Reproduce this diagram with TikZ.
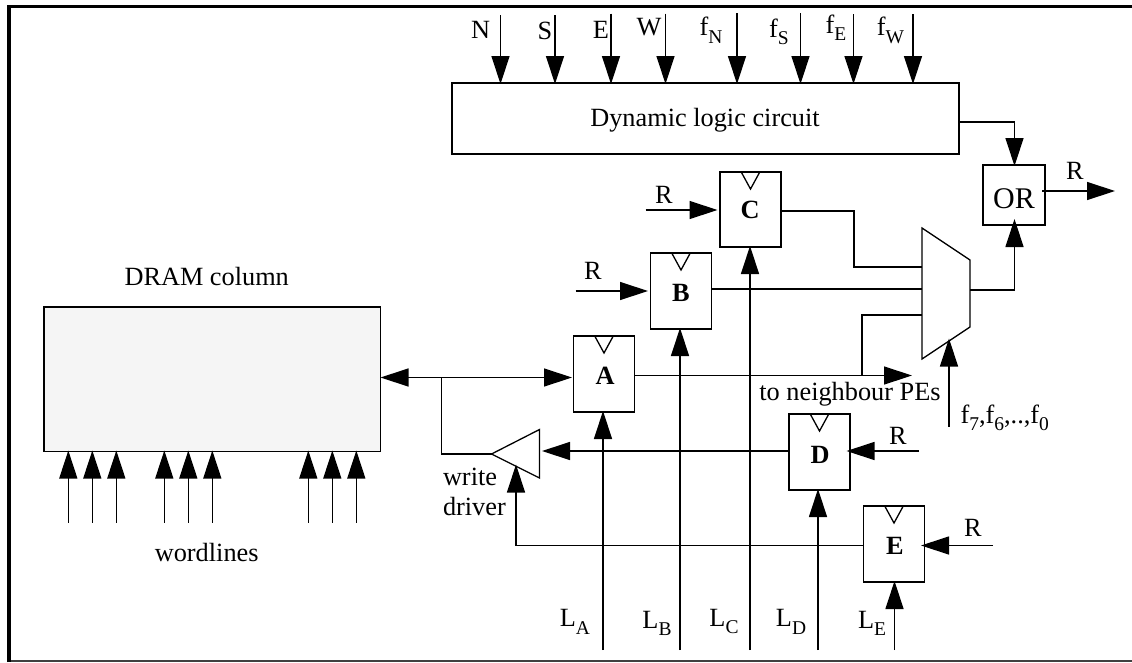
\documentclass[tikz,border=0pt]{standalone}
\usepackage{fontspec}
\setmainfont{Liberation Serif}
\usetikzlibrary{arrows.meta,calc}
\newcommand{\subt}[1]{\raisebox{-0.28em}{\fontsize{19.5}{19.5}\selectfont #1}}
\tikzset{
  wire/.style={line width=1.3pt},
  arr/.style={wire,-{Triangle[length=28pt,width=18pt]},shorten >=-1pt},
  dblarr/.style={wire,{Triangle[length=28pt,width=18pt]}-{Triangle[length=28pt,width=18pt]}},
  box/.style={draw,line width=1.3pt,inner sep=0pt,outer sep=0pt,anchor=north west},
  lbl/.style={inner sep=0pt,outer sep=0pt,anchor=base,font=\fontsize{26.3}{30}\selectfont},
  blbl/.style={lbl,font=\fontsize{26.3}{30}\selectfont\bfseries},
  clk/.style={draw,line width=1.3pt,line join=miter}
}
\begin{document}
\begin{tikzpicture}[x=1pt,y=-1pt]
\useasboundingbox (0,0) rectangle (1132,662);
\fill[white] (0,0) rectangle (1132,662);
% frame
\draw[line width=1.5pt,black!75] (8.5,661.2) -- (1132,661.2);
\draw[line width=3.6pt,black,line cap=butt,line join=miter] (8.9,662) -- (8.9,6.6) -- (1132,6.6);
% boxes
\node[box,minimum width=507pt,minimum height=71pt] (dyn) at (452,83) {};
\node[lbl] at (705,126) {Dynamic logic circuit};
\node[box,minimum width=62pt,minimum height=60pt] (or) at (983,165) {};
\node[lbl,font=\fontsize{30}{30}\selectfont] at (1014,208) {OR};
\node[box,minimum width=61pt,minimum height=75pt] (C) at (720,172) {};
\node[box,minimum width=61pt,minimum height=76pt] (B) at (650.5,253) {};
\node[box,minimum width=61pt,minimum height=76pt] (A) at (573.5,336) {};
\node[box,minimum width=61pt,minimum height=76pt] (D) at (789,414) {};
\node[box,minimum width=61pt,minimum height=76pt] (E) at (863.5,506) {};
\node[box,fill=black!4,minimum width=336.5pt,minimum height=144.5pt] (dram) at (44,307) {};
\node[blbl] at (750,218.5) {C};
\node[blbl] at (681,301.7) {B};
\node[blbl] at (605,384.5) {A};
\node[blbl] at (820,463.3) {D};
\node[blbl] at (895,554.3) {E};
% clock triangles
\foreach \b in {A,B,C,D,E}{
  \draw[clk] ($(\b.north)+(-9,0.5)$) -- ($(\b.north)+(0,17)$) -- ($(\b.north)+(9,0.5)$);
}
% mux
\draw[line width=1.3pt,line join=miter] (922,228) coordinate (mt) -- (970,260) -- (970,327) -- (922,359) coordinate (mb) -- cycle;
\coordinate (mo) at (970,290);
\coordinate (msel) at (949,339.5);
% driver
\draw[line width=1.3pt,line join=miter] (491.5,454) coordinate (dap) -- (539.5,429.5) -- (539.5,478) -- cycle;
% top inputs
\foreach \x/\y in {500.5/15,555/15,611/13.5,665.5/13.5,737/13,800.5/13,853.5/14,913/14}{
  \coordinate (t) at (\x,\y);
  \draw[arr] (t) -- (t |- dyn.north);
}
\node[lbl] at (480.5,38.7) {N};
\node[lbl] at (545,39) {S};
\node[lbl] at (601,38) {E};
\node[lbl] at (649,35.7) {W};
\node[lbl] at (711,35.7) {f\subt{N}};
\node[lbl] at (779,37.3) {f\subt{S}};
\node[lbl] at (836,33.3) {f\subt{E}};
\node[lbl] at (890.5,35.7) {f\subt{W}};
% dyn to OR
\coordinate (dynout) at (dyn.east |- 0,122);
\coordinate (orx) at (1014.5,122);
\draw[arr] (dynout) -- (orx) -- (orx |- or.north);
% OR output
\coordinate (ors) at (1042,191);
\coordinate (ore) at (1114,191);
\draw[arr] (ors) -- (ore);
\node[lbl] at (1075,179) {R};
% mux to OR
\coordinate (orb) at (1014.5,220);
\draw[arr] (mo) -- (1014.5,290) -- (orb);
% R inputs
\coordinate (rc) at (645.5,210);
\draw[arr] (rc) -- (716.5,210);
\node[lbl] at (664,203) {R};
\coordinate (rb) at (575.5,291);
\draw[arr] (rb) -- (647,291);
\node[lbl] at (593,279.3) {R};
\coordinate (rd) at (919,451);
\draw[arr] (rd) -- (847.5,451);
\node[lbl] at (898,444) {R};
\coordinate (re) at (993,545.5);
\draw[arr] (re) -- (922,545.5);
\node[lbl] at (973,536) {R};
% register outputs to mux
\draw[wire] (C.east |- 0,211) -- (854,211) -- (854,267) -- (922,267);
\draw[wire] (B.east |- 0,289) -- (922,289);
\draw[wire] (862,375.5) -- (862,315) -- (922,315);
\draw[arr] (A.east |- 0,375.5) -- (911,375.5);
% select
\coordinate (fs) at (949,426.5);
\draw[arr] (fs) -- (msel);
\node[lbl,anchor=base west] at (960.5,423.3) {f\subt{7},f\subt{6},..,f\subt{0}};
\node[lbl] at (850,400.7) {to neighbour PEs};
% L lines
\foreach \n/\x in {LA/603,LB/680,LC/750,LD/818,LE/894.5}{\coordinate (\n) at (\x,650);}
\draw[arr] (LA) -- (LA |- A.south);
\draw[arr] (LB) -- (LB |- B.south);
\draw[arr] (LC) -- (LC |- C.south);
\draw[arr] (LD) -- (LD |- D.south);
\draw[arr] (LE) -- (LE |- E.south);
\node[lbl] at (575,626.7) {L\subt{A}};
\node[lbl] at (657,628) {L\subt{B}};
\node[lbl] at (724,626) {L\subt{C}};
\node[lbl] at (791,626.7) {L\subt{D}};
\node[lbl] at (872,628) {L\subt{E}};
% bidirectional
\coordinate (bus) at (441.5,377.5);
\draw[dblarr] (dram.east |- bus) -- (572,377.5);
\draw[wire] (bus) -- (441.5,454) -- (dap);
% D to driver
\draw[arr] (D.west |- 0,451) -- (543,451);
% E to driver
\coordinate (drb) at (516,465.5);
\draw[arr] (E.west |- 0,545.5) -- (516,545.5) -- (drb);
\node[lbl,anchor=north west,align=left] at (443,468) {write\\driver};
% wordlines
\foreach \x in {68.3,92.3,116.3,164.3,188.3,212.3,308.3,332.3,356.3}{
  \coordinate (w) at (\x,522.7);
  \draw[arr] (w) -- (w |- dram.south);
}
\node[lbl] at (206.7,285) {DRAM column};
\node[lbl] at (206.7,561.7) {wordlines};
\end{tikzpicture}
\end{document}
